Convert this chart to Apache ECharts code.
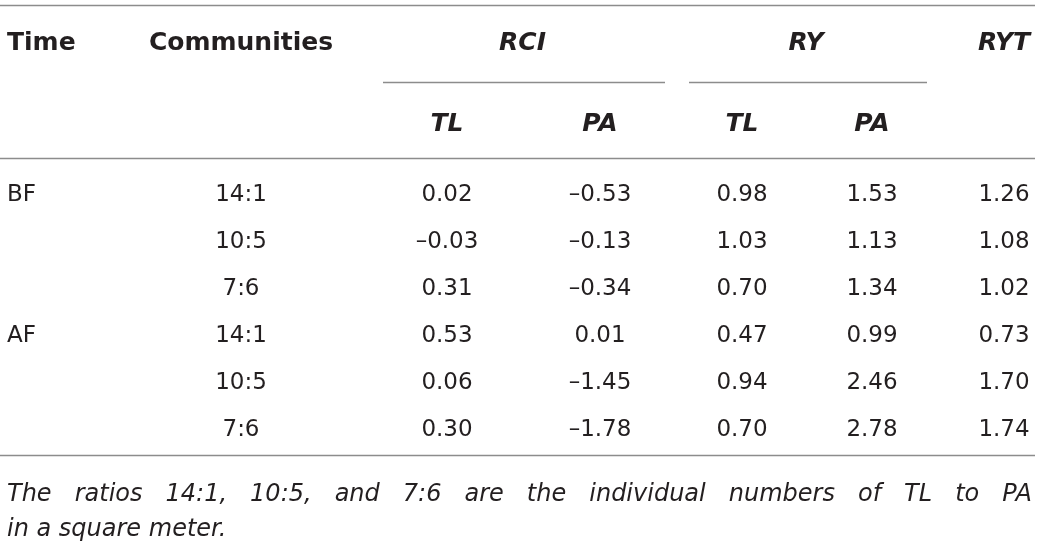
<!DOCTYPE html>
<html>
<head>
<meta charset="utf-8">
<script src="https://cdn.jsdelivr.net/npm/echarts@6/dist/echarts.min.js"></script>
<style>
  html, body { margin: 0; background: #fff; }
  #chart { width: 1040px; height: 552px; }
</style>
</head>
<body>
<div id="chart"></div>
<script>
// table content
const timeGroups = ['BF', '', '', 'AF', '', ''];
const communities = ['14:1', '10:5', '7:6', '14:1', '10:5', '7:6'];
const rciTL = [0.02, -0.03, 0.31, 0.53, 0.06, 0.30];
const rciPA = [-0.53, -0.13, -0.34, 0.01, -1.45, -1.78];
const ryTL = [0.98, 1.03, 0.70, 0.47, 0.94, 0.70];
const ryPA = [1.53, 1.13, 1.34, 0.99, 2.46, 2.78];
const ryt = [1.26, 1.08, 1.02, 0.73, 1.70, 1.74];
const footnote = [
  'The ratios 14:1, 10:5, and 7:6 are the individual numbers of TL to PA',
  'in a square meter.'
];

// layout (pixel units on hidden axes)
const colX = { time: 7, comm: 241, rciTL: 447, rciPA: 600, ryTL: 742, ryPA: 872, ryt: 1004 };
const headY1 = 43, headY2 = 124;
const rowY0 = 195, rowStep = 47;
const noteY = [495, 530], noteLeft = 7, noteRight = 1032;
const ink = '#231f20';
const ruleColor = '#8c8c8c';

const bodyFont = { fontFamily: 'DejaVu Sans', fontWeight: 400, fontSize: 23 };
const headFont = { fontFamily: 'DejaVu Sans', fontWeight: 700, fontSize: 25 };
const noteFont = { fontFamily: 'DejaVu Sans', fontWeight: 400, fontSize: 24, fontStyle: 'italic' };

const fmt = (v) => v.toFixed(2).replace('-', '\u2013');

const cell = (x, y, text, align) => ({
  value: [x, y], name: text,
  label: { align: align || 'center' }
});

// header cells
const headPlain = [
  cell(colX.time, headY1, 'Time', 'left'),
  cell(colX.comm, headY1, 'Communities')
];
const headItalic = [
  cell((colX.rciTL + colX.rciPA) / 2 - 1, headY1, 'RCI'),
  cell((colX.ryTL + colX.ryPA) / 2 - 1, headY1, 'RY'),
  cell(colX.ryt, headY1, 'RYT'),
  cell(colX.rciTL, headY2, 'TL'),
  cell(colX.rciPA, headY2, 'PA'),
  cell(colX.ryTL, headY2, 'TL'),
  cell(colX.ryPA, headY2, 'PA')
];

// body cells
let body = [];
communities.forEach((c, i) => {
  let y = rowY0 + i * rowStep;
  if (timeGroups[i]) body.push(cell(colX.time, y, timeGroups[i], 'left'));
  body.push(cell(colX.comm, y, c));
  body.push(cell(colX.rciTL, y, fmt(rciTL[i])));
  body.push(cell(colX.rciPA, y, fmt(rciPA[i])));
  body.push(cell(colX.ryTL, y, fmt(ryTL[i])));
  body.push(cell(colX.ryPA, y, fmt(ryPA[i])));
  body.push(cell(colX.ryt, y, fmt(ryt[i])));
});

// footnote, first line justified
const ctx = document.createElement('canvas').getContext('2d');
ctx.font = `italic ${noteFont.fontWeight} ${noteFont.fontSize}px "${noteFont.fontFamily}"`;
let note = [];
let words = footnote[0].split(' ');
let widths = words.map((w) => ctx.measureText(w).width);
let gap = (noteRight - noteLeft - widths.reduce((a, b) => a + b, 0)) / (words.length - 1);
let nx = noteLeft;
words.forEach((w, i) => {
  note.push(cell(nx, noteY[0], w, 'left'));
  nx += widths[i] + gap;
});
note.push(cell(noteLeft, noteY[1], footnote[1], 'left'));

const rules = [
  [0, 5, 1035], [383, 82, 665], [689, 82, 927], [0, 158, 1035], [0, 455, 1035]
];

const textSeries = (data, font) => ({
  type: 'scatter',
  symbolSize: 0,
  silent: true,
  itemStyle: { opacity: 1 },
  data: data,
  label: Object.assign({
    show: true, position: 'inside', formatter: '{b}',
    color: ink, opacity: 1, verticalAlign: 'middle'
  }, font)
});

const chart = echarts.init(document.getElementById('chart'));
chart.setOption({
  animation: false,
  grid: { left: 0, right: 0, top: 0, bottom: 0 },
  xAxis: { type: 'value', min: 0, max: 1040, show: false },
  yAxis: { type: 'value', min: 0, max: 552, inverse: true, show: false },
  series: [
    Object.assign(textSeries(body, bodyFont), {
      markLine: {
        silent: true, symbol: ['none', 'none'],
        label: { show: false },
        lineStyle: { color: ruleColor, width: 1.3, type: 'solid', opacity: 1 },
        data: rules.map((r) => [{ coord: [r[0], r[1]] }, { coord: [r[2], r[1]] }])
      }
    }),
    textSeries(headPlain, headFont),
    textSeries(headItalic, Object.assign({ fontStyle: 'italic' }, headFont)),
    textSeries(note, noteFont)
  ]
});
</script>
</body>
</html>
